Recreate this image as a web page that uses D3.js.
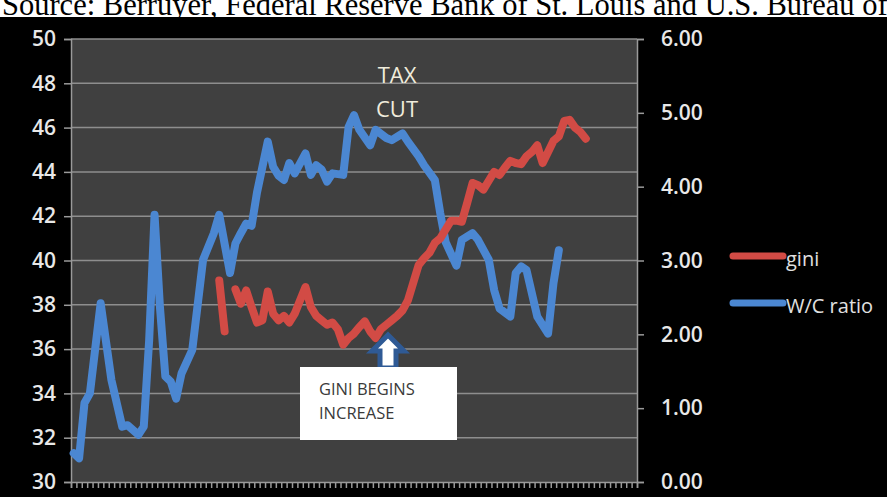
<!DOCTYPE html>
<html>
<head>
<meta charset="utf-8">
<script src="https://cdn.jsdelivr.net/npm/d3@7/dist/d3.min.js"></script>
<style>
  html, body { margin: 0; padding: 0; background: #000; }
  svg { display: block; }
</style>
</head>
<body>
<svg id="chart" width="887" height="497"></svg>
<script>
// Yearly categories along the bottom axis
const years = d3.range(1920, 2025);

// W/C ratio (right axis)
const wcYears = [1920,1921,1922,1923,1925,1927,1929,1930,1932,1933,1934,1935,1936,1937,1938,1939,1940,1942,1944,1946,1947,1949,1950,1951,1952,1953,1954,1956,1957,1958,1959,1960,1961,1963,1964,1965,1966,1967,1968,1970,1971,1972,1973,1975,1976,1978,1979,1981,1982,1984,1985,1987,1988,1989,1991,1992,1994,1995,1997,1998,1999,2001,2002,2003,2004,2006,2008,2009,2010];
const wcValues = [0.39,0.32,1.07,1.20,2.42,1.38,0.75,0.77,0.64,0.75,1.92,3.62,2.37,1.43,1.36,1.13,1.47,1.79,3.01,3.37,3.62,2.83,3.23,3.37,3.50,3.47,3.92,4.61,4.27,4.15,4.09,4.32,4.18,4.45,4.16,4.29,4.23,4.07,4.18,4.16,4.81,4.97,4.77,4.56,4.77,4.66,4.63,4.72,4.61,4.41,4.29,4.09,3.64,3.25,2.93,3.28,3.37,3.28,3.01,2.60,2.35,2.24,2.83,2.92,2.87,2.24,2.01,2.69,3.14];

// Gini index (left axis), yearly from 1947; null marks a missing year
const giniStart = 1947;
const giniValues = [39.1,36.8,null,38.7,38.05,38.65,37.9,37.2,37.3,38.6,37.6,37.3,37.5,37.2,37.6,38.2,38.8,37.9,37.5,37.3,37.1,37.2,36.9,36.2,36.5,36.7,37.0,37.25,36.8,36.5,36.9,37.1,37.3,37.5,37.75,38.2,39.0,39.8,40.1,40.35,40.8,41.0,41.4,41.8,41.8,41.75,42.6,43.5,43.4,43.2,43.6,44.0,43.86,44.2,44.5,44.4,44.35,44.7,44.9,45.2,44.4,44.9,45.4,45.6,46.3,46.35,46.0,45.8,45.5];

const leftTicks = [30,32,34,36,38,40,42,44,46,48,50];
const rightTicks = [0,1,2,3,4,5,6];
const seriesNames = ["gini", "W/C ratio"];

const RED = "#d24b45", BLUE = "#4b87d2";
const svg = d3.select("#chart");
const W = 887, H = 497;
const plot = { left: 71, right: 637, top: 39, bottom: 482 };

svg.append("rect").attr("width", W).attr("height", H).attr("fill", "#000");

// Source line across the top
svg.append("rect").attr("x", 0).attr("y", 0).attr("width", W).attr("height", 17).attr("fill", "#fff");
svg.append("text").attr("x", 2).attr("y", 15)
  .attr("font-family", "'Liberation Serif', 'Times New Roman', serif")
  .attr("font-size", 30.5).attr("fill", "#000")
  .text("Source: Berruyer, Federal Reserve Bank of St. Louis and U.S. Bureau of");

const x = d3.scaleBand().domain(years).range([plot.left, plot.right]).padding(0);
const xc = yr => x(yr) + x.bandwidth() / 2;
const yL = d3.scaleLinear().domain([30, 50]).range([plot.bottom, plot.top]);
const yR = d3.scaleLinear().domain([0, 6]).range([plot.bottom, plot.top]);

// Plot area
svg.append("rect")
  .attr("x", plot.left).attr("y", plot.top)
  .attr("width", plot.right - plot.left).attr("height", plot.bottom - plot.top)
  .attr("fill", "#404040");

// Horizontal gridlines
svg.append("g").selectAll("line").data(leftTicks.slice(1)).join("line")
  .attr("x1", plot.left).attr("x2", plot.right)
  .attr("y1", d => yL(d)).attr("y2", d => yL(d))
  .attr("stroke", "#8e8e8e").attr("stroke-width", 1.5);

const labelFont = "'Open Sans', 'DejaVu Sans', sans-serif";

// Left axis
const gL = svg.append("g").attr("transform", `translate(${plot.left},0)`)
  .call(d3.axisLeft(yL).tickValues(leftTicks).tickSize(7).tickPadding(8).tickFormat(d3.format("d")));
// Right axis
const gR = svg.append("g").attr("transform", `translate(${plot.right},0)`)
  .call(d3.axisRight(yR).tickValues(rightTicks).tickSize(7).tickPadding(17).tickFormat(d3.format(".2f")));
// Bottom axis: tick marks at category boundaries, no labels
const boundaries = years.map(yr => x(yr)).concat([plot.right]);
const xb = d3.scaleLinear().domain([plot.left, plot.right]).range([plot.left, plot.right]);
const gB = svg.append("g").attr("transform", `translate(0,${plot.bottom})`)
  .call(d3.axisBottom(xb).tickValues(boundaries).tickSize(6).tickFormat(""));

[gL, gR, gB].forEach(g => {
  g.select(".domain").attr("stroke", "#9a9a9a").attr("stroke-width", 1.5);
  g.selectAll(".tick line").attr("stroke", "#9a9a9a").attr("stroke-width", 1.5);
  g.selectAll(".tick text").attr("fill", "#e8e8e8")
    .attr("font-family", labelFont).attr("font-size", 21).attr("font-weight", 600);
});

// Series lines
const wcData = wcYears.map((yr, i) => ({ yr, v: wcValues[i] }));
const giniData = giniValues.map((v, i) => ({ yr: giniStart + i, v }));

svg.append("path").datum(wcData)
  .attr("d", d3.line().x(d => xc(d.yr)).y(d => yR(d.v)))
  .attr("fill", "none").attr("stroke", BLUE).attr("stroke-width", 8)
  .attr("stroke-linejoin", "round").attr("stroke-linecap", "round");

svg.append("path").datum(giniData)
  .attr("d", d3.line().defined(d => d.v !== null).x(d => xc(d.yr)).y(d => yL(d.v)))
  .attr("fill", "none").attr("stroke", RED).attr("stroke-width", 8)
  .attr("stroke-linejoin", "round").attr("stroke-linecap", "round");

// "TAX CUT" note
svg.append("text").attr("x", 397).attr("y", 83).attr("text-anchor", "middle")
  .attr("font-family", labelFont).attr("font-size", 22).attr("fill", "#f0ecdc").text("TAX");
svg.append("text").attr("x", 397).attr("y", 117).attr("text-anchor", "middle")
  .attr("font-family", labelFont).attr("font-size", 22).attr("fill", "#f0ecdc").text("CUT");

// Up arrow and callout box
const ax = 388;
const arrow = d3.path();
arrow.moveTo(ax, 335);
arrow.lineTo(ax + 16, 351);
arrow.lineTo(ax + 8, 351);
arrow.lineTo(ax + 8, 368);
arrow.lineTo(ax - 8, 368);
arrow.lineTo(ax - 8, 351);
arrow.lineTo(ax - 16, 351);
arrow.closePath();
svg.append("path").attr("d", arrow.toString())
  .attr("fill", "#fff").attr("stroke", "#2f5a95").attr("stroke-width", 5).attr("stroke-linejoin", "miter");

svg.append("rect").attr("x", 300).attr("y", 367).attr("width", 157).attr("height", 73).attr("fill", "#fff");
svg.append("text").attr("x", 319).attr("y", 395)
  .attr("font-family", labelFont).attr("font-size", 16.5).attr("fill", "#3a3a3a").text("GINI BEGINS");
svg.append("text").attr("x", 319).attr("y", 419)
  .attr("font-family", labelFont).attr("font-size", 16.5).attr("fill", "#3a3a3a").text("INCREASE");

// Legend
const legend = svg.append("g");
[RED, BLUE].forEach((c, i) => {
  const ly = 256 + i * 47;
  legend.append("line").attr("x1", 733).attr("x2", 783).attr("y1", ly).attr("y2", ly)
    .attr("stroke", c).attr("stroke-width", 7).attr("stroke-linecap", "round");
  legend.append("text").attr("x", 786).attr("y", ly + 10)
    .attr("font-family", labelFont).attr("font-size", 20).attr("fill", "#e0e0e0").text(seriesNames[i]);
});
</script>
</body>
</html>
